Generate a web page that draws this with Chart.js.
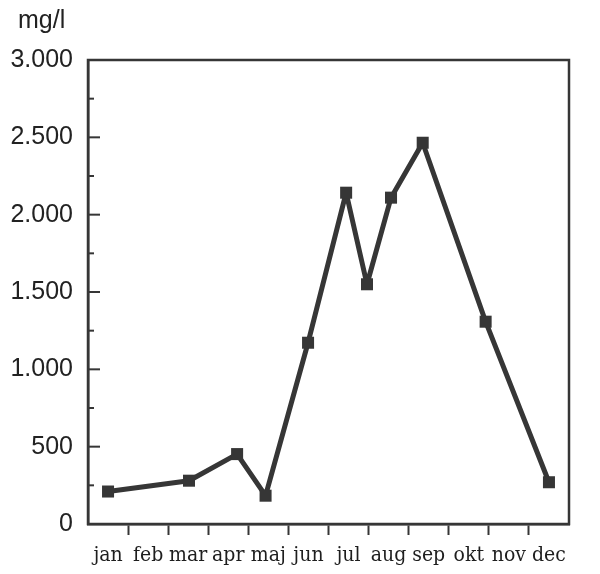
<!DOCTYPE html>
<html>
<head>
<meta charset="utf-8">
<script src="https://cdn.jsdelivr.net/npm/chart.js@4"></script>
<style>
  html, body { margin: 0; padding: 0; background: #fff; }
  #wrap { width: 600px; height: 574px; position: relative; }
</style>
</head>
<body>
<div id="wrap"><canvas id="chart-conc"></canvas></div>
<script>
// month labels, sampling time (in months from 1 jan) and measured values
const months = ['jan', 'feb', 'mar', 'apr', 'maj', 'jun', 'jul', 'aug', 'sep', 'okt', 'nov', 'dec'];
const sampleMonth = [0.5, 2.52, 3.72, 4.43, 5.49, 6.44, 6.96, 7.56, 8.35, 9.92, 11.5];
const concentration = [210, 280, 452, 183, 1172, 2142, 1550, 2110, 2465, 1308, 270];
const yTicks = [0, 500, 1000, 1500, 2000, 2500, 3000];
const unitLabel = 'mg/l';

const ink = '#363636';

function fmt(v) {
    return String(v).replace(/\B(?=(\d{3})+(?!\d))/g, '.');
}

// box around plot, inward y tick marks and the unit label
const frame = {
    id: 'frame',
    afterDraw(chart) {
        const ctx = chart.ctx;
        const a = chart.chartArea;
        const y = chart.scales.y;
        ctx.save();
        ctx.strokeStyle = ink;
        ctx.lineWidth = 2.5;
        ctx.strokeRect(a.left, a.top, a.right - a.left, a.bottom - a.top);
        ctx.lineWidth = 2;
        for (let v = 250; v < 3000; v += 250) {
            const py = y.getPixelForValue(v);
            const len = v % 500 === 0 ? 12 : 6;
            ctx.beginPath();
            ctx.moveTo(a.left, py);
            ctx.lineTo(a.left + len, py);
            ctx.stroke();
        }
        ctx.fillStyle = '#222';
        ctx.font = '25px "Liberation Sans"';
        ctx.textAlign = 'left';
        ctx.textBaseline = 'alphabetic';
        ctx.fillText(unitLabel, a.left - 70, a.top - 32);
        ctx.restore();
    }
};

const chart = new Chart(document.getElementById('chart-conc'), {
    type: 'line',
    data: {
        datasets: [{
            label: unitLabel,
            data: sampleMonth.map((m, i) => ({ x: m, y: concentration[i] })),
            borderColor: ink,
            borderWidth: 5,
            borderJoinStyle: 'round',
            backgroundColor: ink,
            pointStyle: 'rect',
            pointRadius: 8.5,
            pointBorderWidth: 0,
            tension: 0
        }]
    },
    options: {
        responsive: true,
        maintainAspectRatio: false,
        devicePixelRatio: 1,
        animation: false,
        layout: { padding: { left: 0, right: 31, top: 60, bottom: 0 } },
        plugins: {
            legend: { display: false },
            tooltip: { enabled: false },
            title: { display: false }
        },
        scales: {
            x: {
                type: 'linear',
                min: 0,
                max: 12,
                afterBuildTicks(scale) {
                    const t = [];
                    for (let i = 0; i <= 12; i++) t.push({ value: i });
                    months.forEach((m, i) => t.push({ value: i + 0.5 }));
                    t.sort((p, q) => p.value - q.value);
                    scale.ticks = t;
                },
                afterFit(scale) { scale.height = 50; },
                border: { display: true, color: ink, width: 2.5 },
                grid: {
                    drawOnChartArea: false,
                    drawTicks: true,
                    tickLength: 11,
                    tickWidth: 2,
                    tickColor: c => (c.tick && c.tick.value % 1 === 0 && c.tick.value > 0 && c.tick.value < 12) ? ink : 'rgba(0,0,0,0)'
                },
                ticks: {
                    autoSkip: false,
                    maxRotation: 0,
                    padding: 8,
                    color: '#1e1e1e',
                    font: { family: '"DejaVu Serif Condensed", "DejaVu Serif"', size: 21 },
                    callback: v => (v % 1 !== 0) ? months[Math.floor(v)] : ''
                }
            },
            y: {
                min: 0,
                max: 3000,
                afterBuildTicks(scale) {
                    scale.ticks = yTicks.map(v => ({ value: v }));
                },
                afterFit(scale) { scale.width = 88; },
                border: { display: true, color: ink, width: 2.5 },
                grid: { display: false, drawTicks: false },
                ticks: {
                    padding: 15,
                    color: '#222',
                    font: { family: 'Liberation Sans', size: 25 },
                    callback: v => fmt(v)
                }
            }
        }
    },
    plugins: [frame]
});
</script>
</body>
</html>
